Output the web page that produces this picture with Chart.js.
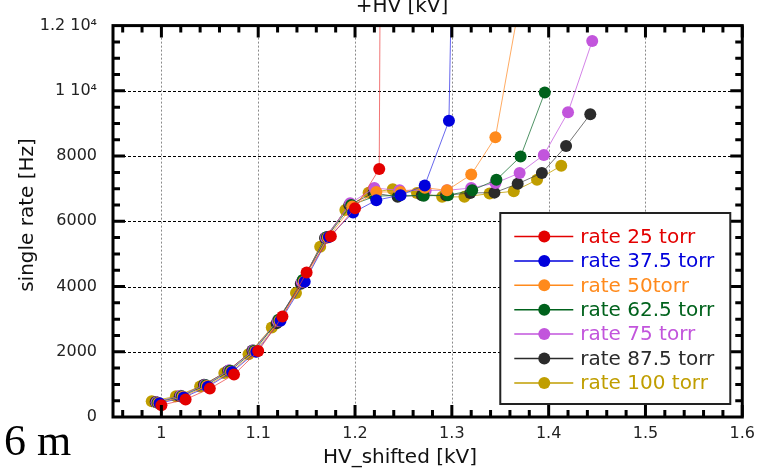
<!DOCTYPE html>
<html>
<head>
<meta charset="utf-8">
<script src="https://cdn.jsdelivr.net/npm/chart.js@4.4.0/dist/chart.umd.min.js"></script>
<style>
html, body { margin: 0; padding: 0; background: #fff; }
#wrap { width: 762px; height: 468px; }
</style>
</head>
<body>
<div id="wrap"><canvas id="myChart" width="762" height="468"></canvas></div>
<script>
'use strict';
// HV_shifted [kV] and single rate [Hz], one pair of arrays per pressure
var hv25 = [1.0, 1.025, 1.05, 1.075, 1.1, 1.125, 1.15, 1.175, 1.2, 1.225, 1.25];
var rate25 = [362, 540, 870, 1300, 2020, 3080, 4430, 5540, 6400, 7600, 160000];

var hv375 = [0.998, 1.023, 1.048, 1.073, 1.098, 1.123, 1.148, 1.173, 1.198, 1.222, 1.247, 1.272, 1.297, 1.32];
var rate375 = [420, 600, 930, 1380, 2000, 2950, 4150, 5520, 6266, 6647, 6800, 7100, 9081, 45000];

var hv50 = [0.997, 1.022, 1.047, 1.072, 1.097, 1.122, 1.147, 1.172, 1.197, 1.222, 1.247, 1.272, 1.295, 1.32, 1.345, 1.37];
var rate50 = [430, 620, 950, 1390, 2010, 2950, 4150, 5500, 6450, 6900, 6900, 7030, 6950, 7432, 8577, 12700];

var hv625 = [0.996, 1.021, 1.046, 1.071, 1.096, 1.121, 1.146, 1.171, 1.196, 1.221, 1.246, 1.271, 1.296, 1.321, 1.346, 1.371, 1.396];
var rate625 = [440, 640, 970, 1420, 2030, 2980, 4200, 5520, 6500, 6768, 6800, 6780, 6800, 6950, 7271, 7986, 9947];

var hv75 = [0.995, 1.02, 1.045, 1.07, 1.095, 1.12, 1.145, 1.17, 1.195, 1.22, 1.246, 1.273, 1.295, 1.32, 1.345, 1.37, 1.395, 1.42, 1.445];
var rate75 = [450, 650, 980, 1430, 2040, 2950, 4150, 5500, 6550, 7020, 6950, 6950, 6950, 7020, 7171, 7482, 8036, 9343, 11525];

var hv875 = [0.994, 1.019, 1.044, 1.069, 1.094, 1.119, 1.144, 1.169, 1.194, 1.219, 1.244, 1.269, 1.294, 1.319, 1.344, 1.368, 1.393, 1.418, 1.443];
var rate875 = [462, 634, 986, 1418, 2042, 2876, 4083, 5491, 6496, 6869, 6749, 6798, 6798, 6869, 6879, 7150, 7482, 8306, 9283];

var hv100 = [0.99, 1.015, 1.04, 1.065, 1.09, 1.114, 1.139, 1.164, 1.19, 1.214, 1.239, 1.264, 1.29, 1.313, 1.339, 1.364, 1.388, 1.413];
var rate100 = [483, 634, 935, 1348, 1921, 2745, 3801, 5220, 6345, 6879, 6980, 6869, 6749, 6749, 6849, 6919, 7271, 7703];

var seriesLabels = ['rate 25 torr', 'rate 37.5 torr', 'rate 50torr', 'rate 62.5 torr', 'rate 75 torr', 'rate 87.5 torr', 'rate 100 torr'];
var seriesHV = [hv25, hv375, hv50, hv625, hv75, hv875, hv100];
var seriesRate = [rate25, rate375, rate50, rate625, rate75, rate875, rate100];
var seriesColors = ['#e30000', '#0000dc', '#ff8a1c', '#00621c', '#c255dc', '#2b2b2b', '#c09e00'];
var lineColors = ['rgba(235,60,60,0.7)', 'rgba(40,40,230,0.7)', 'rgba(255,150,60,0.8)', 'rgba(20,110,50,0.75)', 'rgba(200,100,225,0.8)', 'rgba(60,60,60,0.7)', 'rgba(195,160,0,0.8)'];

var xTickVals = [1, 1.1, 1.2, 1.3, 1.4, 1.5, 1.6];
var xTickLabels = ['1', '1.1', '1.2', '1.3', '1.4', '1.5', '1.6'];
var yTickVals = [0, 2000, 4000, 6000, 8000, 10000, 12000];
var yTickLabels = ['0', '2000', '4000', '6000', '8000', '1 10\u2074', '1.2 10\u2074'];

var FONT = 'DejaVu Sans';

//build datasets from the arrays
var datasets = [];
for (let i = 0; i < seriesLabels.length; i++) {
  datasets.push({
    label: seriesLabels[i],
    data: seriesHV[i].map((x, j) => ({ x: x, y: seriesRate[i][j] })),
    showLine: true,
    borderColor: lineColors[i],
    borderWidth: 1,
    pointRadius: 6,
    pointBorderWidth: 0,
    pointBackgroundColor: seriesColors[i],
    pointBorderColor: seriesColors[i]
  });
}

// grid under data, frame + inward ticks over data, legend and texts last
var framePlugin = {
  id: 'frame',
  beforeDatasetsDraw: function (chart) {
    let ctx = chart.ctx, a = chart.chartArea;
    let xs = chart.scales.x, ys = chart.scales.y;
    ctx.save();
    ctx.lineWidth = 1;
    ctx.strokeStyle = '#8a8a8a';
    ctx.setLineDash([2, 2]);
    for (let v of [1, 1.1, 1.2, 1.3, 1.4, 1.5]) {
      let px = Math.round(xs.getPixelForValue(v)) + 0.5;
      ctx.beginPath(); ctx.moveTo(px, a.top); ctx.lineTo(px, a.bottom); ctx.stroke();
    }
    ctx.strokeStyle = '#000';
    ctx.setLineDash([3, 2]);
    for (let v of [2000, 4000, 6000, 8000, 10000]) {
      let py = Math.round(ys.getPixelForValue(v)) + 0.5;
      ctx.beginPath(); ctx.moveTo(a.left, py); ctx.lineTo(a.right, py); ctx.stroke();
    }
    ctx.restore();
  },
  afterDatasetsDraw: function (chart) {
    let ctx = chart.ctx, a = chart.chartArea;
    let xs = chart.scales.x, ys = chart.scales.y;
    ctx.save();
    ctx.strokeStyle = '#000';
    ctx.lineWidth = 3;
    ctx.strokeRect(a.left, a.top, a.right - a.left, a.bottom - a.top);
    // x ticks top and bottom
    for (let k = 0; k <= 32; k++) {
      let v = 0.96 + k * 0.02;
      let px = xs.getPixelForValue(v);
      let major = Math.abs(v * 10 - Math.round(v * 10)) < 0.01;
      let len = major ? 12 : 7;
      ctx.beginPath();
      ctx.moveTo(px, a.bottom); ctx.lineTo(px, a.bottom - len);
      ctx.moveTo(px, a.top); ctx.lineTo(px, a.top + len);
      ctx.stroke();
    }
    // y ticks left and right
    for (let v = 500; v < 12000; v += 500) {
      let py = ys.getPixelForValue(v);
      let len = v % 2000 === 0 ? 12 : 7;
      ctx.beginPath();
      ctx.moveTo(a.left, py); ctx.lineTo(a.left + len, py);
      ctx.moveTo(a.right, py); ctx.lineTo(a.right - len, py);
      ctx.stroke();
    }
    ctx.restore();
  },
  afterDraw: function (chart) {
    let ctx = chart.ctx, a = chart.chartArea;
    ctx.save();
    // legend box
    let bx = a.right - 242, by = a.bottom - 204, bw = 230, bh = 191;
    ctx.fillStyle = '#fff';
    ctx.fillRect(bx, by, bw, bh);
    ctx.strokeStyle = '#222';
    ctx.lineWidth = 2;
    ctx.strokeRect(bx, by, bw, bh);
    ctx.font = '20px "' + FONT + '"';
    ctx.textBaseline = 'middle';
    chart.data.datasets.forEach((ds, i) => {
      let ry = by + 23.5 + i * 24.4;
      ctx.strokeStyle = seriesColors[i];
      ctx.lineWidth = 1.5;
      ctx.beginPath(); ctx.moveTo(bx + 14, ry); ctx.lineTo(bx + 73, ry); ctx.stroke();
      ctx.fillStyle = seriesColors[i];
      ctx.beginPath(); ctx.arc(bx + 44, ry, 6, 0, Math.PI * 2); ctx.fill();
      ctx.fillText(ds.label, bx + 80, ry + 1);
    });
    // axis titles
    ctx.fillStyle = '#111';
    ctx.textBaseline = 'alphabetic';
    ctx.textAlign = 'center';
    ctx.fillText('+HV [kV]', 402, 12);
    ctx.fillText('HV_shifted [kV]', 400, 463);
    ctx.save();
    ctx.translate(33, 215);
    ctx.rotate(-Math.PI / 2);
    ctx.fillText('single rate [Hz]', 0, 0);
    ctx.restore();
    ctx.textAlign = 'left';
    ctx.fillStyle = '#000';
    ctx.font = '44px "Liberation Serif"';
    ctx.fillText('6 m', 4, 455);
    ctx.restore();
  }
};

var ctx = document.getElementById('myChart').getContext('2d');
// eslint-disable-next-line no-undef
new Chart(ctx, {
  type: 'scatter',
  data: { datasets: datasets },
  plugins: [framePlugin],
  options: {
    responsive: false,
    animation: false,
    layout: { padding: { top: 19, right: 18, left: 0, bottom: 0 } },
    plugins: { legend: { display: false }, tooltip: { enabled: false } },
    scales: {
      x: {
        type: 'linear',
        min: 0.95,
        max: 1.6,
        grid: { display: false, drawTicks: false },
        border: { display: false },
        afterBuildTicks: s => { s.ticks = xTickVals.map(v => ({ value: v })); },
        afterFit: s => { s.height = 51; },
        ticks: {
          font: { family: FONT, size: 16 },
          color: '#222',
          padding: 7,
          maxRotation: 0,
          callback: (v, idx) => xTickLabels[idx]
        }
      },
      y: {
        type: 'linear',
        min: 0,
        max: 12000,
        grid: { display: false, drawTicks: false },
        border: { display: false },
        afterBuildTicks: s => { s.ticks = yTickVals.map(v => ({ value: v })); },
        afterFit: s => { s.width = 113; },
        ticks: {
          font: { family: FONT, size: 16 },
          color: '#222',
          padding: 16,
          callback: (v, idx) => yTickLabels[idx]
        }
      }
    }
  }
});
</script>
</body>
</html>
